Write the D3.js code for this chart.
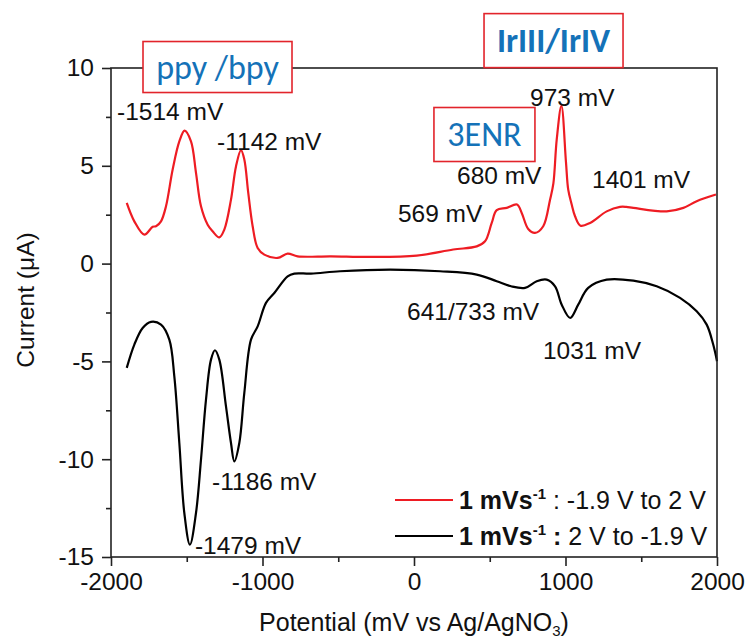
<!DOCTYPE html>
<html><head><meta charset="utf-8">
<script src="https://cdn.jsdelivr.net/npm/d3@7"></script>
<style>
html,body{margin:0;padding:0;background:#fff;}
svg{display:block;font-family:"Liberation Sans",Arial,sans-serif;}
</style></head>
<body>
<svg id="c" width="746" height="641"></svg>
<script>
// ---- data ----
const xTicks = [-2000, -1000, 0, 1000, 2000];
const xMinor = [-1500, -500, 500, 1500];
const yTicks = [-15, -10, -5, 0, 5, 10];
const yMinor = [-12.5, -7.5, -2.5, 2.5, 7.5];

// forward scan (-1.9 V to 2 V), red
const fwdPotential = [-1896,-1846,-1780,-1725,-1703,-1670,-1637,-1593,-1549,-1514,-1472,-1439,-1406,-1362,-1329,-1285,-1252,-1208,-1175,-1142,-1120,-1094,-1065,-1032,-988,-900,-834,-768,-548,-290,18,259,414,469,513,546,612,680,711,754,799,853,898,920,942,973,1003,1018,1040,1063,1099,1162,1272,1360,1401,1448,1668,1778,1866,1993];
const fwdCurrent   = [3.10,2.16,1.48,1.88,1.91,2.16,2.93,4.81,6.25,6.80,6.25,4.64,2.93,1.99,1.65,1.34,1.74,3.27,4.97,5.80,5.32,3.61,1.91,0.80,0.46,0.29,0.51,0.37,0.37,0.34,0.41,0.72,0.88,1.14,2.08,2.73,2.85,3.02,2.59,1.77,1.57,1.91,3.27,4.10,6.34,8.06,5.20,3.78,3.05,2.42,1.94,2.08,2.67,2.90,2.90,2.85,2.67,2.85,3.19,3.53];

// reverse scan (2 V to -1.9 V), black
const revPotential = [-1896,-1846,-1791,-1736,-1670,-1615,-1582,-1549,-1516,-1479,-1439,-1406,-1373,-1340,-1314,-1285,-1241,-1208,-1186,-1153,-1120,-1076,-1032,-977,-922,-834,-790,-680,-488,-158,172,414,546,641,733,810,876,931,975,1031,1084,1150,1272,1448,1602,1756,1866,1932,1975,2000];
const revCurrent   = [-5.33,-4.14,-3.29,-2.98,-3.12,-3.89,-5.76,-9.17,-12.75,-14.37,-12.75,-10.02,-6.95,-4.91,-4.43,-4.91,-7.30,-9.17,-10.11,-9.17,-6.61,-3.89,-3.21,-2.01,-1.50,-0.65,-0.51,-0.51,-0.39,-0.31,-0.39,-0.56,-0.90,-1.16,-1.24,-0.90,-0.82,-1.16,-2.10,-2.78,-2.10,-1.24,-0.82,-0.87,-1.16,-1.75,-2.44,-3.12,-4.14,-4.99];

// peak labels: text, potential (mV), current (uA) of text start/baseline
const peakLabels = ["-1514 mV","-1142 mV","973 mV","680 mV","569 mV","1401 mV","641/733 mV","1031 mV","-1186 mV","-1479 mV"];
const peakLabelX = [-1960,-1300,766,284,-106,1175,-46,851,-1333,-1446];
const peakLabelY = [7.36,5.83,8.08,4.09,2.15,3.89,-2.86,-4.86,-11.55,-14.83];

// boxed assignments: text, centre potential, centre current
const boxLabels = ["ppy /bpy","IrIII/IrIV","3ENR"];
const boxX = [-1297, 921, 465];
const boxY = [10.05, 11.4, 6.6];

const legendLabels = [[{t:"1 mVs",b:1},{t:"-1",b:1,sup:1},{t:" : -1.9 V to 2 V",b:0}],
                      [{t:"1 mVs",b:1},{t:"-1",b:1,sup:1},{t:" : ",b:1},{t:"2 V to -1.9 V",b:0}]];

// ---- drawing ----
const svg = d3.select("#c");
const x = d3.scaleLinear().domain([-2000,2000]).range([111,717]);
const y = d3.scaleLinear().domain([-15,10]).range([557,68]);
const RED = "#ee1c23";

const line = d3.line().x(d=>x(d[0])).y(d=>y(d[1])).curve(d3.curveCatmullRom.alpha(0.5));
const fwd = fwdPotential.map((p,i)=>[p,fwdCurrent[i]]);
const rev = revPotential.map((p,i)=>[p,revCurrent[i]]);

svg.append("path").datum(rev).attr("d",line).attr("fill","none").attr("stroke","#000").attr("stroke-width",2.2).attr("stroke-linejoin","round");
svg.append("path").datum(fwd).attr("d",line).attr("fill","none").attr("stroke",RED).attr("stroke-width",2.2).attr("stroke-linejoin","round");

// frame
svg.append("rect").attr("x",x(-2000)).attr("y",y(10)).attr("width",x(2000)-x(-2000)).attr("height",y(-15)-y(10))
  .attr("fill","none").attr("stroke","#222").attr("stroke-width",1.6);

// axes
const fs = 24.5;
const gx = svg.append("g").attr("transform",`translate(0,${y(-15)})`)
  .call(d3.axisBottom(x).tickValues(xTicks).tickSize(9).tickPadding(7).tickFormat(d3.format("d")));
const gxm = svg.append("g").attr("transform",`translate(0,${y(-15)})`)
  .call(d3.axisBottom(x).tickValues(xMinor).tickSize(5).tickFormat(""));
const gy = svg.append("g").attr("transform",`translate(${x(-2000)},0)`)
  .call(d3.axisLeft(y).tickValues(yTicks).tickSize(9).tickPadding(8).tickFormat(d3.format("d")));
const gym = svg.append("g").attr("transform",`translate(${x(-2000)},0)`)
  .call(d3.axisLeft(y).tickValues(yMinor).tickSize(5).tickFormat(""));
[gx,gxm,gy,gym].forEach(g=>{
  g.select(".domain").remove();
  g.selectAll(".tick line").attr("stroke","#222").attr("stroke-width",1.6);
  g.selectAll("text").attr("font-size",fs).attr("font-family","'Liberation Sans',Arial,sans-serif").attr("fill","#111");
});
gx.selectAll("text").text(d=>d3.format("d")(d).replace("−","-"));
gy.selectAll("text").text(d=>d3.format("d")(d).replace("−","-"));

// axis titles
const xt = svg.append("text").attr("x",(x(-2000)+x(2000))/2).attr("y",631).attr("text-anchor","middle")
  .attr("font-size",25).attr("fill","#111");
xt.append("tspan").text("Potential (mV vs Ag/AgNO");
xt.append("tspan").text("3").attr("font-size",15).attr("dy",5);
xt.append("tspan").text(")").attr("dy",-5);

svg.append("text").attr("transform","translate(34,300) rotate(-90)").attr("text-anchor","middle")
  .attr("font-size",24.5).attr("fill","#111").text("Current (\u03bcA)");

// peak labels
svg.append("g").selectAll("text").data(peakLabels).join("text")
  .attr("x",(d,i)=>x(peakLabelX[i])).attr("y",(d,i)=>y(peakLabelY[i]))
  .attr("font-size",24.5).attr("fill","#111").text(d=>d);

// boxed labels
const boxW = [149,139,101], boxH = [51,54,54];
boxLabels.forEach((t,i)=>{
  const cx = x(boxX[i]), cy = y(boxY[i]);
  svg.append("rect").attr("x",cx-boxW[i]/2).attr("y",cy-boxH[i]/2).attr("width",boxW[i]).attr("height",boxH[i])
    .attr("fill","#fff").attr("stroke","#e2242b").attr("stroke-width",1.6);
  svg.append("text").attr("x",cx).attr("y",cy).attr("dy","0.34em").attr("text-anchor","middle")
    .attr("font-family","Carlito,Calibri,'Open Sans',sans-serif").attr("font-size",34)
    .attr("font-weight", i===1 ? "bold" : "normal").attr("fill","#1472b8").text(t);
});

// legend
const legColors = [RED,"#000"];
const legY = [500,536];
legendLabels.forEach((parts,i)=>{
  svg.append("line").attr("x1",395).attr("x2",453).attr("y1",legY[i]).attr("y2",legY[i])
    .attr("stroke",legColors[i]).attr("stroke-width",2.2);
  const t = svg.append("text").attr("x",459).attr("y",legY[i]+9).attr("font-size",25).attr("fill","#111");
  parts.forEach((p,k)=>{
    const s = t.append("tspan").text(p.t).attr("font-weight",p.b?"bold":"normal");
    if(p.sup){ s.attr("font-size",15).attr("dy",-10); }
    else if(k>0 && parts[k-1].sup){ s.attr("dy",10); }
  });
});
</script>
</body></html>
